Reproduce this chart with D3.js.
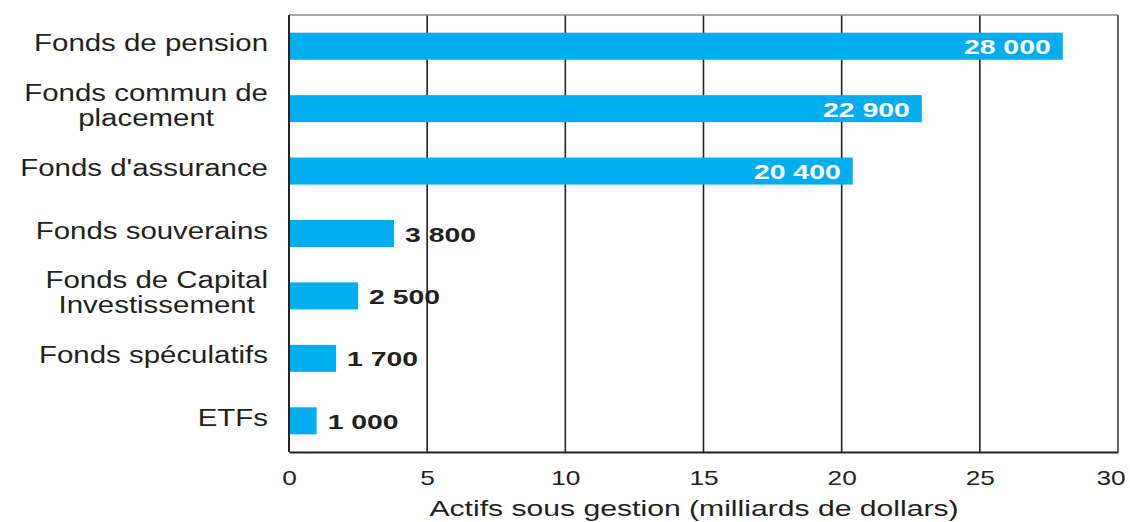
<!DOCTYPE html>
<html lang="fr">
<head>
<meta charset="utf-8">
<script src="https://cdn.jsdelivr.net/npm/d3@7"></script>
<style>
  html, body { margin: 0; padding: 0; background: #fff; }
  svg { display: block; font-family: "Liberation Sans", Arial, Helvetica, sans-serif; }
</style>
</head>
<body>
<svg id="chart" width="1130" height="522"></svg>
<script>
// Catégories (une ligne par "\n") et actifs sous gestion
const categories = [
  "Fonds de pension",
  "Fonds commun de\nplacement",
  "Fonds d'assurance",
  "Fonds souverains",
  "Fonds de Capital\nInvestissement",
  "Fonds spéculatifs",
  "ETFs"
];
const values = [28000, 22900, 20400, 3800, 2500, 1700, 1000];
const valueLabels = ["28 000", "22 900", "20 400", "3 800", "2 500", "1 700", "1 000"];
const xTicks = [0, 5, 10, 15, 20, 25, 30];
const xTitle = "Actifs sous gestion (milliards de dollars)";

const BAR = "#00aeef";
const INK = "#231f20";

const svg = d3.select("#chart");
const plot = { left: 289, right: 1118, top: 15, bottom: 452 };

const x = d3.scaleLinear().domain([0, 30]).range([plot.left, plot.right]);
const y = d3.scaleBand().domain(categories).range([plot.top, plot.bottom])
  .paddingInner(0.567).paddingOuter(0.2835);

// Vertical grid lines
svg.append("g")
  .selectAll("line")
  .data(xTicks.slice(1, -1))
  .join("line")
  .attr("x1", d => x(d)).attr("x2", d => x(d))
  .attr("y1", plot.top).attr("y2", plot.bottom)
  .attr("stroke", "#222").attr("stroke-width", 1.6);

// Bars (values in thousands on the axis)
svg.append("g")
  .selectAll("rect")
  .data(values)
  .join("rect")
  .attr("x", x(0))
  .attr("y", (d, i) => y(categories[i]))
  .attr("width", d => x(d / 1000) - x(0))
  .attr("height", y.bandwidth())
  .attr("fill", BAR);

// Frame
svg.append("line").attr("x1", plot.left).attr("x2", plot.right)
  .attr("y1", plot.top).attr("y2", plot.top)
  .attr("stroke", "#8c8c8c").attr("stroke-width", 1.6);
svg.append("line").attr("x1", plot.right).attr("x2", plot.right)
  .attr("y1", plot.top).attr("y2", plot.bottom)
  .attr("stroke", "#555").attr("stroke-width", 1.8);
svg.append("line").attr("x1", plot.left).attr("x2", plot.left)
  .attr("y1", plot.top).attr("y2", plot.bottom)
  .attr("stroke", "#222").attr("stroke-width", 2);

// Bottom axis with tick labels
const xAxis = svg.append("g")
  .attr("transform", `translate(0,${plot.bottom})`)
  .call(d3.axisBottom(x).tickValues(xTicks).tickSize(0).tickFormat(d3.format("d")));
xAxis.select(".domain").attr("stroke", "#222").attr("stroke-width", 2);
xAxis.selectAll("text")
  .attr("y", 33).attr("dy", 0)
  .attr("dx", (d, i, n) => i === n.length - 1 ? -6 : 0)   // keep the last label inside the page
  .attr("font-size", 21)
  .attr("fill", INK)
  .attr("font-family", "'Liberation Sans', Arial, sans-serif")
  .attr("transform", "scale(1.25,1)");

// Axis title
svg.append("text")
  .attr("transform", "translate(694,516) scale(1.37,1)")
  .attr("text-anchor", "middle")
  .attr("font-size", 22)
  .attr("fill", INK)
  .text(xTitle);

// Category labels
const catSX = 1.28;
const catRight = 268;
const lineGap = 25;
categories.forEach((c, i) => {
  const lines = c.split("\n");
  const cy = y(c) + y.bandwidth() / 2 + 5;
  if (lines.length === 1) {
    svg.append("text")
      .attr("transform", `translate(${catRight},${cy}) scale(${catSX},1)`)
      .attr("text-anchor", "end")
      .attr("font-size", 23)
      .attr("fill", INK)
      .text(c);
  } else {
    const g = svg.append("g");
    const texts = lines.map(l => g.append("text")
      .attr("text-anchor", "middle")
      .attr("font-size", 23)
      .attr("fill", INK)
      .text(l));
    const maxW = d3.max(texts, t => t.node().getComputedTextLength());
    const cx = catRight - maxW * catSX / 2;
    texts.forEach((t, k) => {
      const by = cy + (k - (lines.length - 1) / 2) * lineGap;
      t.attr("transform", `translate(${cx},${by}) scale(${catSX},1)`);
    });
  }
});

// Value labels: inside long bars (white), outside short bars (dark)
const valSX = 1.42;
values.forEach((v, i) => {
  const end = x(v / 1000);
  const by = y(categories[i]) + y.bandwidth() / 2 + 8;
  const inside = v > 10000;
  svg.append("text")
    .attr("transform", `translate(${inside ? end - 12 : end + 11},${by}) scale(${valSX},1)`)
    .attr("text-anchor", inside ? "end" : "start")
    .attr("font-size", 20)
    .attr("font-weight", "bold")
    .attr("fill", inside ? "#ffffff" : INK)
    .text(valueLabels[i]);
});
</script>
</body>
</html>
